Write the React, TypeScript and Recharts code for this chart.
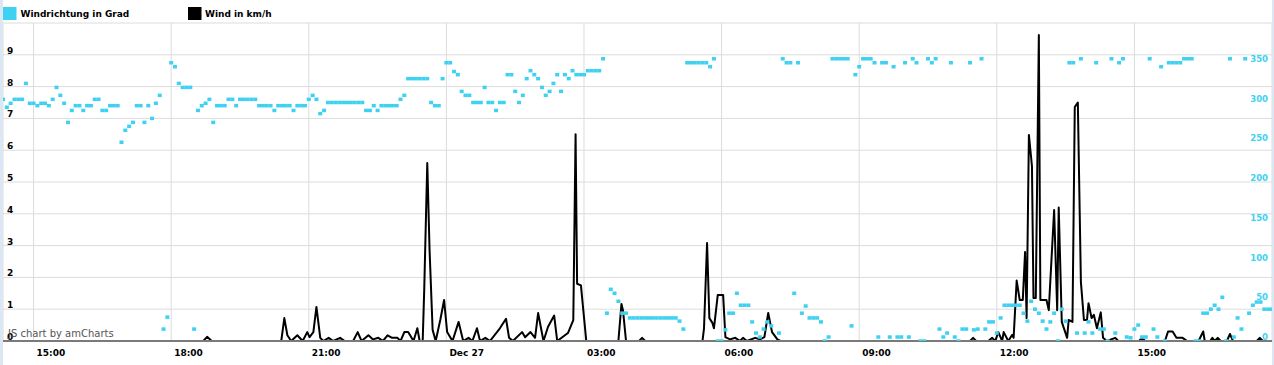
import { ComposedChart, Line, Scatter, XAxis, YAxis, CartesianGrid } from 'recharts'

const FONT = '"DejaVu Sans", Verdana, sans-serif'
const CYAN = '#3fd1f1'

// Windrichtung in Grad, 5-Minuten-Raster ab 26.12. 14:20 (null = kein Wert)
const dirStart = '14:20'
const dir1420 = [304, 294, 299, 304, 304, 304, 324, 299]
const dir15 = [299, 296, 299, 299, 296, 304, 319, 309, 299, 275, 290, 296]
const dir16 = [296, 290, 296, 296, 304, 304, 290, 290, 296, 296, 296, 250]
const dir17 = [265, 270, 275, 296, 296, 275, 296, 280, 299, 309, 15, 30]
const dir18 = [350, 345, 324, 319, 319, 319, 15, 290, 296, 299, 304, 275]
const dir19 = [296, 296, 296, 304, 304, 296, 304, 304, 304, 304, 304, 296]
const dir20 = [296, 296, 296, 290, 296, 296, 296, 296, 290, 296, 296, 296]
const dir21 = [304, 309, 304, 286, 290, 300, 300, 300, 300, 300, 300, 300]
const dir22 = [300, 300, 300, 290, 290, 296, 290, 296, 296, 296, 296, 296]
const dir23 = [304, 309, 330, 330, 330, 330, 330, 330, 300, 296, 296, 330]
const dir00 = [350, 350, 339, 335, 314, 309, 309, 300, 300, 300, 319, 300]
const dir01 = [300, 290, 300, 300, 335, 335, 314, 300, 309, 330, 340, 335]
const dir02 = [330, 319, 309, 314, 324, 335, 314, 335, 330, 340, 335, 335]
const dir03 = [335, 340, 340, 340, 340, 355, 35, 65, 60, 50, 35, 35]
const dir04 = [29, 29, 29, 29, 29, 29, 29, 29, 29, 29, 29, 29]
const dir05 = [29, 25, 15, 350, 350, 350, 350, 350, 350, 345, 355, 0]
const dir06 = [0, 14, 35, 35, 60, 45, 45, 45, 24, 10, 5, 15]
const dir07 = [24, 19, null, 10, 355, 350, 350, 60, 350, 35, 44, 29]
const dir08 = [29, 29, 24, 0, 5, 355, 355, 355, 355, 355, 19, 335]
const dir09 = [345, 355, 355, 355, 350, 5, 350, 350, 5, 345, 5, 5]
const dir10 = [350, 5, 355, 350, 0, 0, 355, 350, 355, 15, 5, 10]
const dir11 = [350, 5, 0, 15, 15, 350, 14, 15, 355, 15, 24, 24]
const dir12 = [10, 29, 45, 45, 45, 45, 45, 35, 25, 50, 40, 35]
const dir13 = [25, 15, 24, 35, 0, 40, 25, 350, 350, 10, 355, 10]
const dir14 = [24, 10, 350, 15, 15, 0, 355, 10, 350, 355, 5, 4]
const dir15b = [15, 20, 5, 5, 355, 15, 5, 345, 0, 350, 350, 350]
const dir16b = [350, 355, 355, 355, 0, 0, 35, 35, 40, 45, 40, 55]
const dir17b = [0, 355, 5, 29, 15, 355, 35, 45, 49, 49, 40, 40, 40]

const windDirection: (number | null)[] = [
  ...dir1420, ...dir15, ...dir16, ...dir17, ...dir18, ...dir19, ...dir20, ...dir21, ...dir22, ...dir23,
  ...dir00, ...dir01, ...dir02, ...dir03, ...dir04, ...dir05, ...dir06, ...dir07, ...dir08, ...dir09,
  ...dir10, ...dir11, ...dir12, ...dir13, ...dir14, ...dir15b, ...dir16b, ...dir17b,
]

// Wind in km/h, Messzeitpunkte (null = Luecke in den Daten)
const windDec26: [string, number | null][] = [
  ['18:42', 0], ['18:47', 0.13], ['18:53', 0], ['18:55', null],
  ['20:24', 0], ['20:28', 0.72], ['20:32', 0.18], ['20:37', 0], ['20:45', 0.18], ['20:52', 0],
  ['20:58', 0.28], ['21:01', 0.12], ['21:06', 0.28], ['21:10', 1.07], ['21:15', 0.1], ['21:19', 0],
  ['21:26', 0.1], ['21:32', 0], ['21:41', 0.1], ['21:47', 0], ['21:58', 0], ['22:04', 0.28],
  ['22:09', 0], ['22:18', 0.18], ['22:24', 0.05], ['22:31', 0.1], ['22:37', 0], ['22:43', 0.18],
  ['22:49', 0.1], ['22:56', 0.1], ['23:00', 0], ['23:05', 0.28], ['23:10', 0.28], ['23:17', 0],
  ['23:22', 0.4], ['23:25', 0], ['23:29', 0], ['23:31', 1.6], ['23:35', 5.6], ['23:38', 2.86],
  ['23:42', 0.35], ['23:46', 0], ['23:52', 0.66], ['23:57', 1.29],
]
const windDec27: [string, number | null][] = [
  ['00:01', 0.28], ['00:08', 0], ['00:16', 0.6], ['00:22', 0], ['00:29', 0.1], ['00:34', 0],
  ['00:40', 0.4], ['00:44', 0], ['00:51', 0.1], ['00:57', 0], ['01:10', 0.4], ['01:18', 0.7],
  ['01:22', 0.1], ['01:27', 0], ['01:39', 0.28], ['01:43', 0.12], ['01:50', 0.28], ['01:56', 0.1],
  ['02:00', 0.88], ['02:07', 0], ['02:13', 0.45], ['02:21', 0.8], ['02:25', 0], ['02:39', 0.25],
  ['02:46', 0.66], ['02:49', 6.5], ['02:51', 1.8], ['02:56', 1.75], ['03:03', 0], ['03:10', null],
  ['03:45', 0], ['03:49', 1.16], ['03:51', 0.97], ['03:55', 0], ['04:00', null],
  ['04:12', 0], ['04:16', 0.1], ['04:20', 0], ['04:25', null],
  ['05:35', 0], ['05:37', 0.4], ['05:41', 3.08], ['05:44', 0.72], ['05:48', 0.57], ['05:50', 0.4],
  ['05:55', 1.45], ['06:02', 1.45], ['06:05', 0.12], ['06:11', 0.05], ['06:18', 0.1], ['06:24', 0],
  ['06:28', 0.1], ['06:33', 0], ['06:44', 0.1], ['06:50', 0.05], ['06:56', 0.12], ['07:01', 0.88],
  ['07:06', 0.28], ['07:13', 0.05], ['07:17', 0], ['07:20', null],
  ['11:25', 0], ['11:29', 0.1], ['11:33', 0], ['11:40', null],
  ['11:49', 0], ['11:54', 0.1], ['11:58', 0], ['12:02', 0.28], ['12:07', 0], ['12:09', 0.28],
  ['12:15', 0], ['12:20', 0.19], ['12:22', 0.1], ['12:26', 1.9], ['12:30', 1.29], ['12:34', 1.29],
  ['12:37', 2.8], ['12:39', 0.72], ['12:42', 6.48], ['12:46', 5.5], ['12:48', 1.35], ['12:51', 1.35],
  ['12:55', 9.62], ['12:57', 1.29], ['13:05', 1.29], ['13:08', 0.97], ['13:15', 4.12], ['13:19', 0.97],
  ['13:21', 4.2], ['13:25', 0.6], ['13:32', 0.1], ['13:34', 0.66], ['13:39', 0.6], ['13:42', 7.36],
  ['13:46', 7.5], ['13:50', 1.86], ['13:54', 0.66], ['13:58', 0.66], ['14:00', 1.19], ['14:04', 0.72],
  ['14:07', 0.82], ['14:11', 0.4], ['14:16', 0.9], ['14:19', 0.1], ['14:24', 0], ['14:35', 0.1],
  ['14:39', 0], ['14:45', null],
  ['15:06', 0], ['15:10', 0.1], ['15:14', 0], ['15:20', null],
  ['15:40', 0], ['15:44', 0.3], ['15:50', 0.3], ['15:55', 0.1], ['16:03', 0.1], ['16:09', 0], ['16:15', null],
  ['16:24', 0], ['16:30', 0.3], ['16:32', 0], ['16:39', 0], ['16:42', 0.1], ['16:45', 0], ['16:49', 0.1],
  ['16:53', 0], ['17:01', 0], ['17:05', 0.22], ['17:09', 0], ['17:15', null],
  ['17:40', 0], ['17:44', 0.1], ['17:48', 0],
]

const xTicks = [900, 1080, 1260, 1440, 1620, 1800, 1980, 2160, 2340]
const xTickLabels = ['15:00', '18:00', '21:00', 'Dec 27', '03:00', '06:00', '09:00', '12:00', '15:00']
const leftTicks = [0, 1, 2, 3, 4, 5, 6, 7, 8, 9, 10]
const rightTicks = [0, 50, 100, 150, 200, 250, 300, 350]

const toMin = (s: string, day: number) => {
  const [h, m] = s.split(':').map(Number)
  return day * 1440 + h * 60 + m
}

const windData = [
  ...windDec26.map(([s, v]) => ({ t: toMin(s, 0), v })),
  ...windDec27.map(([s, v]) => ({ t: toMin(s, 1), v })),
]
const startMin = toMin(dirStart, 0)
const dirData = windDirection
  .map((d, i) => ({ t: startMin + 5 * i, d }))
  .filter((p) => p.d !== null)

function TimeTick({ x, payload }: any) {
  const label = xTickLabels[xTicks.indexOf(payload.value)]
  return (
    <text x={x + 3} y={356} fontFamily={FONT} fontSize={9} fontWeight="bold" fill="#000">
      {label}
    </text>
  )
}

function LeftTick({ y, payload }: any) {
  if (payload.value === 10) return <g />
  return (
    <text x={4} y={y - 1} fontFamily={FONT} fontSize={9} fontWeight="bold" fill="#000">
      {payload.value}
    </text>
  )
}

function RightTick({ y, payload }: any) {
  return (
    <text x={1265} y={y - 1} textAnchor="end" fontFamily={FONT} fontSize={8.5} fontWeight="bold" fill={CYAN}>
      {payload.value}
    </text>
  )
}

const Dot = (p: any) => <rect x={p.cx - 2} y={p.cy - 1.75} width={4} height={3.5} fill={CYAN} />

export default function App() {
  return (
    <div style={{ position: 'absolute', left: 0, top: 0, width: 1274, height: 365, background: '#dce7f4' }}>
      <div style={{ position: 'absolute', left: 3, top: 0, width: 1269, height: 365, background: '#fff' }}>
        <ComposedChart width={1269} height={365} margin={{ top: 23, right: 0, bottom: 0, left: 0 }}>
          <CartesianGrid xAxisId="x" yAxisId="left" stroke="#dcdcdc" />
          <XAxis
            xAxisId="x"
            type="number"
            dataKey="t"
            domain={[860, 2520]}
            allowDataOverflow
            ticks={xTicks}
            interval={0}
            height={24}
            tick={TimeTick}
            tickLine={false}
            axisLine={{ stroke: '#7a7a7a', strokeWidth: 2 }}
          />
          <YAxis
            yAxisId="left"
            type="number"
            domain={[0, 10]}
            allowDataOverflow
            ticks={leftTicks}
            interval={0}
            width={1}
            mirror
            tick={LeftTick}
            tickLine={false}
            axisLine={false}
          />
          <YAxis
            yAxisId="right"
            type="number"
            orientation="right"
            domain={[0, 400]}
            allowDataOverflow
            ticks={rightTicks}
            interval={0}
            width={1}
            mirror
            tick={RightTick}
            tickLine={false}
            axisLine={false}
          />
          <Line
            xAxisId="x"
            yAxisId="left"
            data={windData}
            dataKey="v"
            type="linear"
            stroke="#000"
            strokeWidth={2}
            strokeLinejoin="round"
            dot={false}
            activeDot={false}
            connectNulls={false}
            isAnimationActive={false}
          />
          <Scatter
            xAxisId="x"
            yAxisId="right"
            data={dirData}
            dataKey="d"
            shape={Dot}
            isAnimationActive={false}
          />
        </ComposedChart>
        <svg width={1269} height={365} style={{ position: 'absolute', left: 0, top: 0, pointerEvents: 'none' }}>
          <rect x={0} y={7} width={13.5} height={13} fill={CYAN} />
          <text x={17.5} y={17.3} fontFamily={FONT} fontSize={9} fontWeight="bold" fill="#000">
            Windrichtung in Grad
          </text>
          <rect x={185} y={7} width={13.5} height={13} fill="#000" />
          <text x={202} y={17.3} fontFamily={FONT} fontSize={9} fontWeight="bold" fill="#000">
            Wind in km/h
          </text>
          <text x={5} y={337} fontFamily={FONT} fontSize={10} fill="#555">
            JS chart by amCharts
          </text>
        </svg>
      </div>
    </div>
  )
}
